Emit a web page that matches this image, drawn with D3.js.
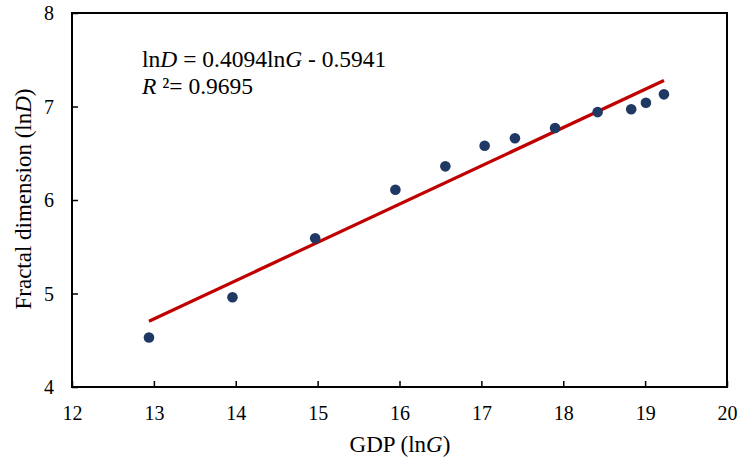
<!DOCTYPE html>
<html>
<head>
<meta charset="utf-8">
<script src="https://cdn.jsdelivr.net/npm/d3@7"></script>
<style>
  html, body { margin: 0; padding: 0; background: #fff; }
  svg { display: block; }
  text { font-family: "Liberation Serif", "Times New Roman", serif; fill: #000; }
</style>
</head>
<body>
<svg id="chart" width="739" height="463"></svg>
<script>
// Data
const lnG = [12.94, 13.96, 14.97, 15.95, 16.56, 17.04, 17.41, 17.90, 18.42, 18.83, 19.01, 19.23];
const lnD = [4.53, 4.96, 5.59, 6.11, 6.36, 6.58, 6.66, 6.77, 6.94, 6.97, 7.04, 7.13];
const slope = 0.4094, intercept = -0.5941;
const xTicks = [12, 13, 14, 15, 16, 17, 18, 19, 20];
const yTicks = [4, 5, 6, 7, 8];

const svg = d3.select("#chart");
const L = 72, R = 727, T = 13, B = 387;
const x = d3.scaleLinear().domain([12, 20]).range([L, R]);
const y = d3.scaleLinear().domain([4, 8]).range([B, T]);

// frame
svg.append("rect").attr("x", L).attr("y", T).attr("width", R - L).attr("height", B - T)
  .attr("fill", "none").attr("stroke", "#000").attr("stroke-width", 2);

// axes with inward ticks
const xAxis = svg.append("g").attr("transform", `translate(0,${B})`)
  .call(d3.axisBottom(x).tickValues(xTicks).tickSize(-6).tickPadding(0).tickFormat(d3.format("d")));
xAxis.select(".domain").remove();
xAxis.selectAll("line").attr("stroke", "#000").attr("stroke-width", 1.5);
xAxis.selectAll("text").attr("font-size", 20).attr("y", 33).attr("dy", 0)
  .style("font-family", "'Liberation Serif', serif");

const yAxis = svg.append("g").attr("transform", `translate(${L},0)`)
  .call(d3.axisLeft(y).tickValues(yTicks).tickSize(-6).tickPadding(0).tickFormat(d3.format("d")));
yAxis.select(".domain").remove();
yAxis.selectAll("line").attr("stroke", "#000").attr("stroke-width", 1.5);
yAxis.selectAll("text").attr("font-size", 20).attr("x", -18).attr("dy", "0.33em")
  .style("font-family", "'Liberation Serif', serif");

// regression line
const x0 = d3.min(lnG), x1 = d3.max(lnG);
svg.append("line")
  .attr("x1", x(x0)).attr("y1", y(slope * x0 + intercept))
  .attr("x2", x(x1)).attr("y2", y(slope * x1 + intercept))
  .attr("stroke", "#C00000").attr("stroke-width", 3.2);

// points
svg.append("g").selectAll("circle").data(lnG.map((g, i) => [g, lnD[i]])).join("circle")
  .attr("cx", d => x(d[0])).attr("cy", d => y(d[1])).attr("r", 5.3)
  .attr("fill", "#1F3864");

// equation
const eq = svg.append("text").attr("x", 142).attr("y", 67).attr("font-size", 23.5);
eq.append("tspan").text("ln");
eq.append("tspan").attr("font-style", "italic").text("D");
eq.append("tspan").text(" = 0.4094ln");
eq.append("tspan").attr("font-style", "italic").text("G");
eq.append("tspan").text(" - 0.5941");

const r2 = svg.append("text").attr("x", 142).attr("y", 94).attr("font-size", 23.5);
r2.append("tspan").attr("font-style", "italic").text("R ");
r2.append("tspan").text("²= 0.9695");

// axis titles
const xt = svg.append("text").attr("x", 400).attr("y", 452).attr("text-anchor", "middle").attr("font-size", 23);
xt.append("tspan").text("GDP (ln");
xt.append("tspan").attr("font-style", "italic").text("G");
xt.append("tspan").text(")");

const yt = svg.append("text").attr("transform", "translate(31,199) rotate(-90)")
  .attr("text-anchor", "middle").attr("font-size", 23);
yt.append("tspan").text("Fractal dimension (ln");
yt.append("tspan").attr("font-style", "italic").text("D");
yt.append("tspan").text(")");
</script>
</body>
</html>
